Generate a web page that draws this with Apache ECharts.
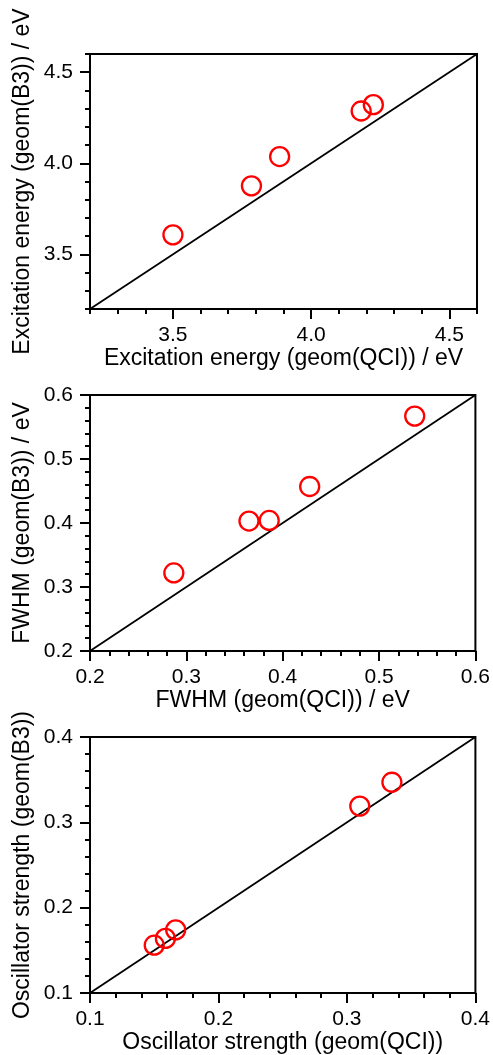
<!DOCTYPE html>
<html>
<head>
<meta charset="utf-8">
<script src="https://cdn.jsdelivr.net/npm/echarts@6/dist/echarts.min.js"></script>
<style>
html,body{margin:0;padding:0;background:#fff;}
#chart{width:493px;height:1055px;}
</style>
</head>
<body>
<div id="chart"></div>
<script>
// ---- data ----
const energyQCI = [3.50, 3.784, 3.886, 4.181, 4.225];
const energyB3  = [3.607, 3.876, 4.037, 4.287, 4.322];
const fwhmQCI = [0.287, 0.365, 0.386, 0.428, 0.537];
const fwhmB3  = [0.322, 0.403, 0.404, 0.457, 0.567];
const oscQCI = [0.150, 0.1587, 0.1667, 0.310, 0.335];
const oscB3  = [0.156, 0.164, 0.174, 0.319, 0.347];

const energyRange = [3.2, 4.6];
const fwhmRange = [0.2, 0.6];
const oscRange = [0.1, 0.4];

const energyTicks = [3.5, 4.0, 4.5];
const fwhmTicks = [0.2, 0.3, 0.4, 0.5, 0.6];
const oscTicks = [0.1, 0.2, 0.3, 0.4];

const energyMinor = 0.1, fwhmMinor = 0.02, oscMinor = 0.02;

const titles = [
  ['Excitation energy (geom(QCI)) / eV', 'Excitation energy (geom(B3)) / eV'],
  ['FWHM (geom(QCI)) / eV', 'FWHM (geom(B3)) / eV'],
  ['Oscillator strength (geom(QCI))', 'Oscillator strength (geom(B3))']
];

// ---- build ----
const FONT = 'Liberation Sans, Arial, sans-serif';
const panels = [
  {x: energyQCI, y: energyB3, range: energyRange, ticks: energyTicks, minor: energyMinor, top: 54, height: 255},
  {x: fwhmQCI, y: fwhmB3, range: fwhmRange, ticks: fwhmTicks, minor: fwhmMinor, top: 395, height: 256},
  {x: oscQCI, y: oscB3, range: oscRange, ticks: oscTicks, minor: oscMinor, top: 737, height: 256}
];

const grid = [], xAxis = [], yAxis = [], series = [];
panels.forEach((p, i) => {
  grid.push({left: 90, width: 387, top: p.top, height: p.height, show: true,
    borderColor: '#000', borderWidth: 2, backgroundColor: 'transparent'});
  const common = (pos) => ({
    type: 'value', gridIndex: i, min: p.range[0], max: p.range[1], position: pos,
    splitLine: {show: false}
  });
  const minorX = Object.assign(common('bottom'), {
    interval: p.minor,
    axisLine: {show: true, lineStyle: {color: '#000', width: 2}},
    axisTick: {show: true, length: 5, lineStyle: {color: '#000', width: 2}},
    axisLabel: {show: false},
    name: titles[i][0], nameLocation: 'middle', nameGap: 38,
    nameTextStyle: {fontFamily: FONT, fontSize: 23, color: '#000'}
  });
  const majorX = Object.assign(common('bottom'), {
    axisLine: {show: false},
    axisTick: {show: true, length: 10, customValues: p.ticks, lineStyle: {color: '#000', width: 2}},
    axisLabel: {show: true, customValues: p.ticks, margin: 16, fontFamily: FONT, fontSize: 21, color: '#000',
      formatter: v => v.toFixed(1)}
  });
  const minorY = Object.assign(common('left'), {
    interval: p.minor,
    axisLine: {show: true, lineStyle: {color: '#000', width: 2}},
    axisTick: {show: true, length: 5, lineStyle: {color: '#000', width: 2}},
    axisLabel: {show: false},
    name: titles[i][1], nameLocation: 'middle', nameGap: 56,
    nameTextStyle: {fontFamily: FONT, fontSize: 23, color: '#000'}
  });
  const majorY = Object.assign(common('left'), {
    axisLine: {show: false},
    axisTick: {show: true, length: 10, customValues: p.ticks, lineStyle: {color: '#000', width: 2}},
    axisLabel: {show: true, customValues: p.ticks, margin: 17, fontFamily: FONT, fontSize: 21, color: '#000',
      formatter: v => v.toFixed(1)}
  });
  const xi = xAxis.length, yi = yAxis.length;
  xAxis.push(minorX, majorX);
  yAxis.push(minorY, majorY);
  series.push({
    type: 'line', xAxisIndex: xi, yAxisIndex: yi, symbol: 'none', silent: true,
    lineStyle: {color: '#000', width: 1.8},
    data: [[p.range[0], p.range[0]], [p.range[1], p.range[1]]], z: 2
  });
  series.push({
    type: 'scatter', xAxisIndex: xi, yAxisIndex: yi, symbol: 'circle', symbolSize: 19,
    itemStyle: {color: 'rgba(0,0,0,0)', borderColor: '#ff0000', borderWidth: 2.3, opacity: 1},
    data: p.x.map((v, k) => [v, p.y[k]]), z: 3
  });
});

const chart = echarts.init(document.getElementById('chart'), null, {renderer: 'canvas'});
chart.setOption({animation: false, backgroundColor: '#fff', grid, xAxis, yAxis, series});
</script>
</body>
</html>
